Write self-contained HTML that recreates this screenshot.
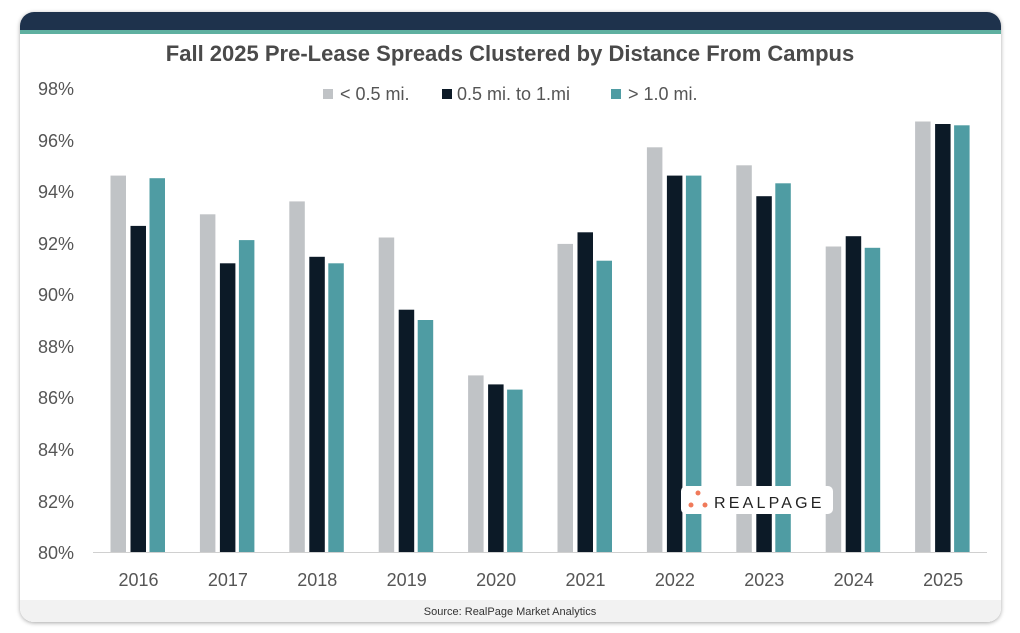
<!DOCTYPE html>
<html><head><meta charset="utf-8"><style>
html,body{margin:0;padding:0;background:#fff;width:1020px;height:633px;overflow:hidden}
</style></head><body>
<svg width="1020" height="633" xmlns="http://www.w3.org/2000/svg" font-family="Liberation Sans, sans-serif">
<defs><filter id="sh" x="-5%" y="-5%" width="110%" height="110%"><feDropShadow dx="0" dy="1" stdDeviation="2" flood-color="#000" flood-opacity="0.35"/></filter>
<clipPath id="cc"><rect x="20" y="12" width="981" height="610" rx="14"/></clipPath></defs>
<rect x="20" y="12" width="981" height="610" rx="14" fill="#fff" filter="url(#sh)"/>
<g clip-path="url(#cc)">
<rect x="20" y="12" width="981" height="18" fill="#1e324c"/>
<rect x="20" y="30" width="981" height="4" fill="#5fb0a0"/>
<rect x="20" y="600" width="981" height="22" fill="#f2f2f2"/>
</g>
<text x="510" y="61" text-anchor="middle" font-size="22" font-weight="bold" fill="#4a4a4a">Fall 2025 Pre-Lease Spreads Clustered by Distance From Campus</text>
<g font-size="18" fill="#555">
<rect x="323" y="89" width="10" height="10" fill="#c0c3c6"/><text x="340" y="100">&lt; 0.5 mi.</text>
<rect x="442" y="89" width="10" height="10" fill="#0c1a27"/><text x="457" y="100">0.5 mi. to 1.mi</text>
<rect x="611" y="89" width="10" height="10" fill="#4f9ca3"/><text x="628" y="100">&gt; 1.0 mi.</text>
</g>
<g font-size="18" fill="#555" text-anchor="end">
<text x="74" y="95">98%</text><text x="74" y="147">96%</text><text x="74" y="198">94%</text>
<text x="74" y="250">92%</text><text x="74" y="301">90%</text><text x="74" y="353">88%</text>
<text x="74" y="404">86%</text><text x="74" y="456">84%</text><text x="74" y="508">82%</text><text x="74" y="559">80%</text>
</g>
<g fill="#c0c3c6">
<rect x="110.5" y="175.6" width="15.5" height="376.4"/>
<rect x="199.9" y="214.3" width="15.5" height="337.7"/>
<rect x="289.3" y="201.4" width="15.5" height="350.6"/>
<rect x="378.7" y="237.5" width="15.5" height="314.5"/>
<rect x="468.1" y="375.4" width="15.5" height="176.6"/>
<rect x="557.5" y="243.9" width="15.5" height="308.1"/>
<rect x="646.9" y="147.3" width="15.5" height="404.7"/>
<rect x="736.3" y="165.3" width="15.5" height="386.7"/>
<rect x="825.7" y="246.5" width="15.5" height="305.5"/>
<rect x="915.1" y="121.5" width="15.5" height="430.5"/>
</g>
<g fill="#0c1a27">
<rect x="130.5" y="225.9" width="15.5" height="326.1"/>
<rect x="219.9" y="263.3" width="15.5" height="288.7"/>
<rect x="309.3" y="256.8" width="15.5" height="295.2"/>
<rect x="398.7" y="309.7" width="15.5" height="242.3"/>
<rect x="488.1" y="384.4" width="15.5" height="167.6"/>
<rect x="577.5" y="232.3" width="15.5" height="319.7"/>
<rect x="666.9" y="175.6" width="15.5" height="376.4"/>
<rect x="756.3" y="196.2" width="15.5" height="355.8"/>
<rect x="845.7" y="236.2" width="15.5" height="315.8"/>
<rect x="935.1" y="124.0" width="15.5" height="428.0"/>
</g>
<g fill="#4f9ca3">
<rect x="149.5" y="178.2" width="15.5" height="373.8"/>
<rect x="238.9" y="240.1" width="15.5" height="311.9"/>
<rect x="328.3" y="263.3" width="15.5" height="288.7"/>
<rect x="417.7" y="320.0" width="15.5" height="232.0"/>
<rect x="507.1" y="389.6" width="15.5" height="162.4"/>
<rect x="596.5" y="260.7" width="15.5" height="291.3"/>
<rect x="685.9" y="175.6" width="15.5" height="376.4"/>
<rect x="775.3" y="183.3" width="15.5" height="368.7"/>
<rect x="864.7" y="247.8" width="15.5" height="304.2"/>
<rect x="954.1" y="125.3" width="15.5" height="426.7"/>
</g>
<line x1="93" y1="552.5" x2="987" y2="552.5" stroke="#d0d0d0" stroke-width="1"/>
<g font-size="18" fill="#555" text-anchor="middle">
<text x="138.5" y="586">2016</text><text x="227.9" y="586">2017</text><text x="317.3" y="586">2018</text>
<text x="406.7" y="586">2019</text><text x="496.1" y="586">2020</text><text x="585.5" y="586">2021</text>
<text x="674.9" y="586">2022</text><text x="764.3" y="586">2023</text><text x="853.7" y="586">2024</text>
<text x="943.1" y="586">2025</text>
</g>
<rect x="681" y="486" width="152" height="28" rx="5" fill="#fff"/>
<circle cx="698" cy="493" r="2.5" fill="#f07a5a"/><circle cx="691" cy="505" r="2.5" fill="#f07a5a"/><circle cx="705" cy="505" r="2.5" fill="#f07a5a"/>
<text x="714" y="508" font-size="16" letter-spacing="3.2" fill="#222">REALPAGE</text>
<text x="510" y="615" text-anchor="middle" font-size="11" fill="#333">Source: RealPage Market Analytics</text>
</svg>
</body></html>
